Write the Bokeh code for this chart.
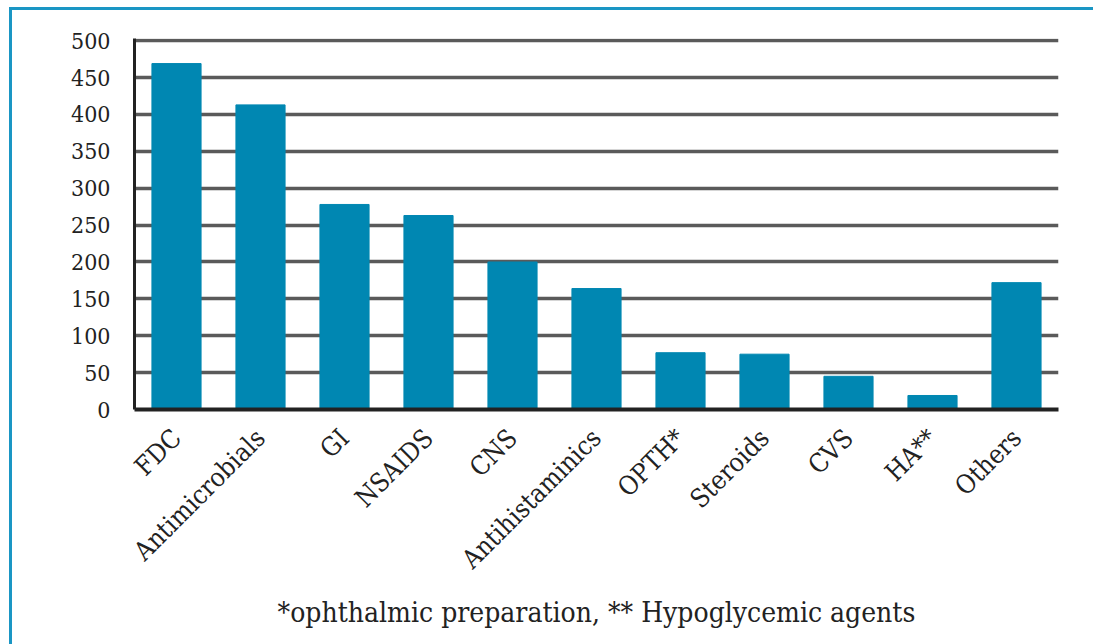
from bokeh.plotting import figure
from bokeh.models import Range1d, FixedTicker, ColumnDataSource
from bokeh.embed import file_html
from bokeh.resources import INLINE
import math

categories = ["FDC", "Antimicrobials", "GI", "NSAIDS", "CNS", "Antihistaminics",
              "OPTH*", "Steroids", "CVS", "HA**", "Others"]
counts = [469, 413, 278, 263, 200, 164, 77, 75, 45, 19, 172]
y_ticks = [0, 50, 100, 150, 200, 250, 300, 350, 400, 450, 500]
footnote = "*ophthalmic preparation, ** Hypoglycemic agents"

FONT = "DejaVu Serif Condensed"
src = ColumnDataSource(dict(cat=categories, val=counts))

p = figure(x_range=categories, y_range=Range1d(0, 503),
           width=1084, height=637, output_backend="svg", toolbar_location=None,
           min_border_left=122, min_border_right=38, min_border_top=28,
           min_border_bottom=238)
p.margin = (7, 0, 0, 9)
p.styles = {"border-top": "3px solid #1a96c4", "border-left": "3px solid #1a96c4",
            "box-sizing": "border-box"}
p.outline_line_color = None
p.x_range.range_padding = 0

p.vbar(x="cat", top="val", width=0.585, source=src, color="#0087b2")

p.xgrid.grid_line_color = None
p.ygrid.grid_line_color = "#5a5a5a"
p.ygrid.grid_line_width = 3.5
p.ygrid.ticker = FixedTicker(ticks=y_ticks[1:])

p.yaxis.ticker = FixedTicker(ticks=y_ticks)
p.yaxis.axis_line_color = "#222222"
p.yaxis.axis_line_width = 3
p.yaxis.major_tick_line_color = None
p.yaxis.minor_tick_line_color = None
p.yaxis.major_label_text_font = FONT
p.yaxis.major_label_text_font_size = "23px"
p.yaxis.major_label_text_color = "#222222"
p.yaxis.major_label_standoff = 18

p.xaxis.axis_line_color = "#222222"
p.xaxis.axis_line_width = 4
p.xaxis.major_tick_line_color = None
p.xaxis.minor_tick_line_color = None
p.xaxis.major_label_orientation = math.pi / 4
p.xaxis.major_label_text_font = FONT
p.xaxis.major_label_text_font_size = "26px"
p.xaxis.major_label_text_color = "#222222"
p.xaxis.major_label_standoff = 18
p.xaxis.axis_label = footnote
p.xaxis.axis_label_text_font = FONT
p.xaxis.axis_label_text_font_style = "normal"
p.xaxis.axis_label_text_font_size = "28px"
p.xaxis.axis_label_text_color = "#222222"
p.xaxis.axis_label_standoff = 8

open("out.html", "w").write(file_html(p, INLINE))
